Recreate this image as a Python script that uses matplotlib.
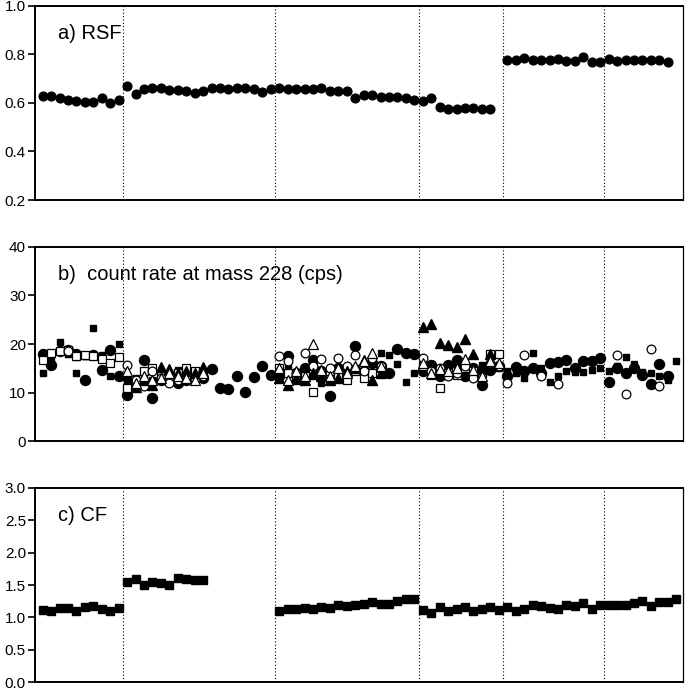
import matplotlib
matplotlib.use('Agg')
import matplotlib.pyplot as plt
import numpy as np

plt.rcParams['font.family'] = ['Liberation Sans', 'DejaVu Sans']

# sample positions where the sessions change
bounds = [9.5, 27.5, 44.5, 54.5, 66.5]

# a) RSF, (first sample index, values) per session
rsf = [
  (0, [0.630, 0.628, 0.619, 0.612, 0.608, 0.605, 0.605, 0.621, 0.598, 0.614]),
  (10, [0.671, 0.636, 0.656, 0.662, 0.660, 0.653, 0.653, 0.649, 0.642, 0.650,
        0.660, 0.660, 0.656, 0.660, 0.660, 0.656, 0.646, 0.656]),
  (28, [0.662, 0.656, 0.656, 0.656, 0.657, 0.662, 0.650, 0.650, 0.650, 0.619,
        0.632, 0.632, 0.625, 0.625, 0.625, 0.619, 0.612]),
  (45, [0.610, 0.619, 0.584, 0.577, 0.577, 0.581, 0.581, 0.577, 0.575]),
  (55, [0.779, 0.779, 0.787, 0.776, 0.779, 0.779, 0.783, 0.774, 0.774, 0.790, 0.769, 0.769]),
  (67, [0.783, 0.774, 0.779, 0.779, 0.779, 0.779, 0.779, 0.769]),
]

# b) count rate at mass 228, one list per symbol
circ_f = [
  (0, [18.0, 15.7, 18.5, 18.8, 18.0, 12.5, 17.7, 14.6, 18.8, 13.5]),
  (10, [9.4, 12.0, 16.7, 8.9, 12.5, 13.0, 12.0, 12.5, 13.5, 13.0,
        14.8, 10.9, 10.7, 13.4, 10.2, 13.1, 15.5, 13.6]),
  (28, [13.5, 17.5, 14.0, 15.0, 16.7, 14.5, 9.3, 15.0, 14.5, 19.6, 14.5, 16.0,
        15.5, 14.1, 19.0, 18.1, 18.0]),
  (45, [14.5, 15.7, 13.5, 15.7, 16.7, 13.3, 15.0, 11.5, 14.6, 15.5]),
  (55, [13.5, 15.3, 14.5, 15.1, 14.0, 16.0, 16.2, 16.8, 15.0, 16.5, 16.5, 17.2]),
  (67, [12.2, 15.0, 14.0, 15.0, 13.7, 11.7, 15.9, 13.4]),
]
sq_f = [
  (0, [14.0, 16.4, 20.5, 18.0, 14.0, 17.5, 23.4, 17.7, 13.3, 20.0]),
  (4, [17.3, 17.5, 17.5]),
  (10, [12.5, 13.0, 14.0, 12.5, 12.5, 13.5, 14.6, 13.5, 13.0, 14.0]),
  (28, [14.5, 15.0, 14.0, 14.5, 13.5, 12.0, 13.0, 13.5, 14.0, 15.0, 14.5, 16.0,
        18.2, 17.7, 15.8, 12.2, 14.1]),
  (45, [14.5, 15.9, 14.0, 13.6, 15.5, 14.0, 15.0, 15.7, 15.5, 15.0]),
  (55, [14.5, 14.0, 13.0, 18.1, 15.0, 12.2, 13.5, 14.5, 14.3, 14.3, 14.6, 15.0]),
  (67, [14.5, 15.5, 17.4, 15.9, 14.3, 14.0, 13.5, 12.5, 16.4]),
]
sq_o = [
  (0, [16.7, 18.2, 18.5, 18.8, 17.5, 17.7, 17.5, 17.0, 16.1, 17.4]),
  (10, [10.9, 12.0, 14.5, 15.0, 13.5, 13.0, 14.0, 15.0, 14.5, 13.5]),
  (28, [15.0, 14.0, 12.5, 13.5, 10.2, 14.0, 12.8, 13.5, 12.6, 14.5, 13.0, 14.0, 15.0]),
  (45, [15.5, 13.6, 10.9, 14.0, 13.6, 15.0, 14.5, 14.0, 18.0, 17.9]),
]
circ_o = [
  (3, [18.6]),
  (10, [15.7, 12.5, 11.3, 14.5, 13.0, 12.0, 12.5, 13.0, 12.5, 13.5]),
  (28, [17.5, 16.5, 14.0, 18.1, 15.5, 17.0, 15.0, 17.2, 15.5, 17.8, 14.5, 17.2, 15.5]),
  (45, [17.2, 14.5, 15.0, 13.5, 14.0, 15.5, 13.0, 14.5, 16.0, 15.5]),
  (55, [11.9]), (57, [17.7]), (59, [13.3]), (61, [11.8]),
  (68, [17.7, 9.6]),
  (72, [18.9, 11.3]),
]
tri_f = [
  (10, [13.6, 11.2, 12.5, 11.5, 15.3, 14.8, 14.0, 14.5, 14.0, 15.3]),
  (28, [13.0, 11.5, 13.0, 12.5, 14.0, 13.5, 12.5, 13.0, 14.5, 15.0, 16.7, 12.6, 14.0]),
  (45, [23.6, 24.1, 20.3, 19.8, 19.3, 21.0, 17.9, 15.0, 18.0]),
]
tri_o = [
  (10, [14.5, 12.0, 13.5, 12.5, 13.0, 14.0, 13.5, 13.0, 12.5, 14.0]),
  (28, [15.0, 12.5, 14.5, 13.5, 20.1, 14.6, 13.5, 15.0, 14.0, 15.5, 16.5, 18.1, 15.5]),
  (45, [16.1, 14.0, 14.8, 14.4, 15.0, 17.0, 14.6, 13.4, 16.5, 16.1]),
]

# c) CF
cf = [
  (0, [1.108, 1.098, 1.144, 1.144, 1.098, 1.160, 1.170, 1.134, 1.098, 1.149]),
  (10, [1.546, 1.588, 1.495, 1.546, 1.536, 1.495, 1.613, 1.598, 1.582, 1.572]),
  (28, [1.098, 1.134, 1.134, 1.144, 1.134, 1.160, 1.149, 1.186, 1.170, 1.186,
        1.201, 1.237, 1.211, 1.211, 1.253, 1.278, 1.278]),
  (45, [1.119, 1.067, 1.160, 1.098, 1.134, 1.160, 1.098, 1.134, 1.160, 1.108]),
  (55, [1.160, 1.098, 1.134, 1.186, 1.175, 1.144, 1.134, 1.186, 1.175, 1.227, 1.134, 1.196]),
  (67, [1.196, 1.196, 1.196, 1.222, 1.247, 1.170, 1.237, 1.237, 1.278]),
]


def xy(segs):
  xs = []; ys = []
  for start, vals in segs:
    xs += list(range(start, start + len(vals)))
    ys += vals
  return np.array(xs), np.array(ys)


def frame(ax, ylim, yticks, fmt, label):
  ax.set_xlim(-0.9, 75.8)
  ax.set_ylim(*ylim)
  ax.set_yticks(yticks)
  ax.set_yticklabels([fmt % t for t in yticks])
  ax.set_xticks([])
  ax.tick_params(axis='y', direction='out', length=5, width=1.2, labelsize=11, pad=1.5)
  for s in ['left', 'bottom', 'top']:
    ax.spines[s].set_linewidth(1.4)
  ax.spines['right'].set_linewidth(0.9)
  for b in bounds:
    ax.axvline(b, color='black', linestyle=(0, (1, 2)), linewidth=0.8, zorder=1)
  ax.text(0.035, 0.86, label, transform=ax.transAxes, fontsize=14.5, va='center', ha='left')


fig = plt.figure(figsize=(6.85, 6.88), dpi=100)
ax1 = fig.add_axes([0.0511, 0.7093, 0.946, 0.282])
ax2 = fig.add_axes([0.0511, 0.359, 0.946, 0.282])
ax3 = fig.add_axes([0.0511, 0.0087, 0.946, 0.282])

frame(ax1, (0.2, 1.0), [0.2, 0.4, 0.6, 0.8, 1.0], '%.1f', 'a) RSF')
frame(ax2, (0, 40), [0, 10, 20, 30, 40], '%d', 'b)  count rate at mass 228 (cps)')
frame(ax3, (0, 3.0), [0.0, 0.5, 1.0, 1.5, 2.0, 2.5, 3.0], '%.1f', 'c) CF')

x, y = xy(rsf)
ax1.plot(x, y, 'o', color='black', markersize=6.3, zorder=3)

x, y = xy(circ_f)
ax2.plot(x, y, 'o', color='black', markersize=7.2, zorder=3)
x, y = xy(sq_f)
ax2.plot(x, y, 's', color='black', markersize=4.5, zorder=3)
x, y = xy(sq_o)
ax2.plot(x, y, 's', mfc='white', mec='black', mew=0.9, markersize=5.8, zorder=3)
x, y = xy(circ_o)
ax2.plot(x, y, 'o', mfc='white', mec='black', mew=0.9, markersize=6.3, zorder=3)
x, y = xy(tri_f)
ax2.plot(x, y, '^', color='black', markersize=6.5, zorder=3)
x, y = xy(tri_o)
ax2.plot(x, y, '^', mfc='white', mec='black', mew=0.9, markersize=6.5, zorder=3)

x, y = xy(cf)
ax3.plot(x, y, 's', color='black', markersize=5.1, zorder=3)

fig.savefig('out.png', dpi=100)
